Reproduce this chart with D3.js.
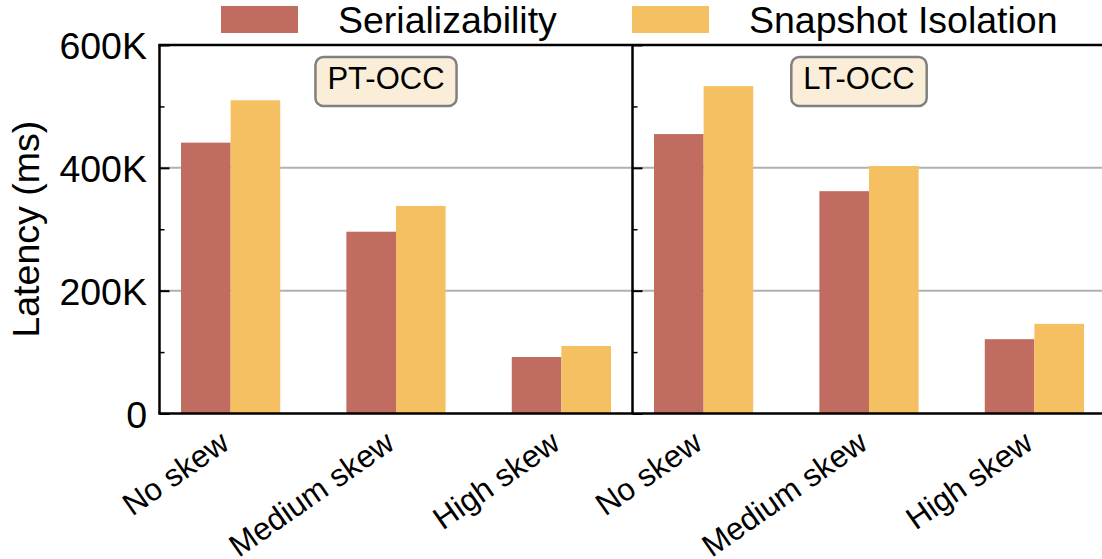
<!DOCTYPE html>
<html>
<head>
<meta charset="utf-8">
<script src="https://cdn.jsdelivr.net/npm/d3@7"></script>
<style>
  body { margin: 0; background: #fff; }
  svg text { font-family: "Liberation Sans", Arial, sans-serif; fill: #000; }
</style>
</head>
<body>
<div id="chart"></div>
<script>
// data (latency in ms)
var categories = ['No skew', 'Medium skew', 'High skew'];
var panels = ['PT-OCC', 'LT-OCC'];
var seriesNames = ['Serializability', 'Snapshot Isolation'];
var seriesColors = ['#c06c60', '#f5c062'];
var ptSer = [441000, 296000, 92000];
var ptSnap = [510000, 338000, 110000];
var ltSer = [455000, 362000, 121000];
var ltSnap = [533000, 403000, 146000];
var majorTicks = [0, 200000, 400000, 600000];
var minorTicks = [100000, 300000, 500000];
var gridTicks = [200000, 400000];

var W = 1102, H = 559;
var top0 = 45, zero = 413.5;
var panelW = 473;
var panelX = [159.5, 632.5];
var barW = 0.3;
var fs = '37.5px';

var svg = d3.select('#chart').append('svg')
    .attr('width', W)
    .attr('height', H);

var y = d3.scaleLinear().domain([0, 600000]).range([zero, top0]);

function kfmt(d){
    return d === 0 ? '0' : (d / 1000) + 'K';
}

// grid lines go under the bars
svg.append('g').selectAll('line')
    .data(gridTicks)
    .enter().append('line')
    .attr('x1', panelX[0]).attr('x2', W)
    .attr('y1', function(d){ return y(d); })
    .attr('y2', function(d){ return y(d); })
    .attr('stroke', '#b0b0b0')
    .attr('stroke-width', 2);

var panelData = [[ptSer, ptSnap], [ltSer, ltSnap]];

panelData.forEach(function(series, p){
    var x = d3.scaleLinear().domain([-0.43, 2.43]).range([panelX[p], panelX[p] + panelW]);
    var g = svg.append('g');

    series.forEach(function(vals, s){
        g.selectAll('rect.s' + s)
            .data(vals)
            .enter().append('rect')
            .attr('class', 's' + s)
            .attr('x', function(d, i){ return x(i - barW + s * barW); })
            .attr('width', x(barW) - x(0))
            .attr('y', function(d){ return y(d); })
            .attr('height', function(d){ return zero - y(d); })
            .attr('fill', seriesColors[s]);
    });

    // category labels, rotated
    var xa = svg.append('g')
        .attr('transform', 'translate(0,' + zero + ')')
        .call(d3.axisBottom(x).tickValues([0, 1, 2]).tickSize(0)
            .tickFormat(function(d){ return categories[d]; }));
    xa.select('.domain').remove();
    xa.selectAll('text')
        .attr('x', 0).attr('y', 0).attr('dy', 0)
        .attr('text-anchor', 'end')
        .attr('transform', 'translate(0,34) rotate(-35)')
        .style('font-size', '31.5px');

    // panel name box
    var cx = x(1) - 10;
    var lbl = g.append('text')
        .attr('x', cx).attr('y', 89)
        .attr('text-anchor', 'middle')
        .style('font-size', '31px')
        .text(panels[p]);
    var bb = lbl.node().getBBox();
    g.insert('rect', 'text')
        .attr('x', bb.x - 12).attr('y', 57)
        .attr('width', bb.width + 24).attr('height', 49)
        .attr('rx', 8).attr('ry', 8)
        .attr('fill', '#faeed9')
        .attr('stroke', '#808080')
        .attr('stroke-width', 2.5);
});

// y axis on the left, ticks pointing in
var ya = svg.append('g')
    .attr('transform', 'translate(' + panelX[0] + ',0)')
    .call(d3.axisLeft(y).tickValues(majorTicks).tickSize(-10).tickPadding(12.5).tickFormat(kfmt));
ya.select('.domain').remove();
ya.selectAll('line').attr('stroke-width', 2);
ya.selectAll('text').style('font-size', fs).attr('dy', '0.36em');

var ym = svg.append('g')
    .attr('transform', 'translate(' + panelX[0] + ',0)')
    .call(d3.axisLeft(y).tickValues(minorTicks).tickSize(-5).tickFormat(''));
ym.select('.domain').remove();
ym.selectAll('line').attr('stroke-width', 1.5);

// ticks of the second panel
var yr = svg.append('g')
    .attr('transform', 'translate(' + panelX[1] + ',0)')
    .call(d3.axisRight(y).tickValues(majorTicks).tickSize(10).tickFormat(''));
yr.select('.domain').remove();
yr.selectAll('line').attr('stroke-width', 2);
var yrm = svg.append('g')
    .attr('transform', 'translate(' + panelX[1] + ',0)')
    .call(d3.axisRight(y).tickValues(minorTicks).tickSize(5).tickFormat(''));
yrm.select('.domain').remove();
yrm.selectAll('line').attr('stroke-width', 1.5);

// spines
var spines = svg.append('g').attr('stroke', '#000').attr('stroke-width', 2.5).attr('fill', 'none');
spines.append('line').attr('x1', panelX[0]).attr('x2', panelX[0]).attr('y1', top0).attr('y2', zero);
spines.append('line').attr('x1', panelX[1]).attr('x2', panelX[1]).attr('y1', top0).attr('y2', zero);
spines.append('line').attr('x1', panelX[0] - 1.25).attr('x2', W).attr('y1', top0).attr('y2', top0);
spines.append('line').attr('x1', panelX[0] - 1.25).attr('x2', W).attr('y1', zero).attr('y2', zero);
spines.append('line').attr('x1', panelX[1] + panelW).attr('x2', panelX[1] + panelW).attr('y1', top0).attr('y2', zero);

// y label
svg.append('text')
    .attr('transform', 'translate(39,' + ((top0 + zero) / 2) + ') rotate(-90)')
    .attr('text-anchor', 'middle')
    .style('font-size', fs)
    .text('Latency (ms)');

// legend
var legX = [221, 632];
var leg = svg.append('g').selectAll('g')
    .data(seriesNames)
    .enter().append('g')
    .attr('transform', function(d, i){ return 'translate(' + legX[i] + ',0)'; });
leg.append('rect')
    .attr('x', 0).attr('y', 6)
    .attr('width', 77).attr('height', 27)
    .attr('fill', function(d, i){ return seriesColors[i]; });
leg.append('text')
    .attr('x', 117).attr('y', 33)
    .style('font-size', fs)
    .text(function(d){ return d; });
</script>
</body>
</html>
